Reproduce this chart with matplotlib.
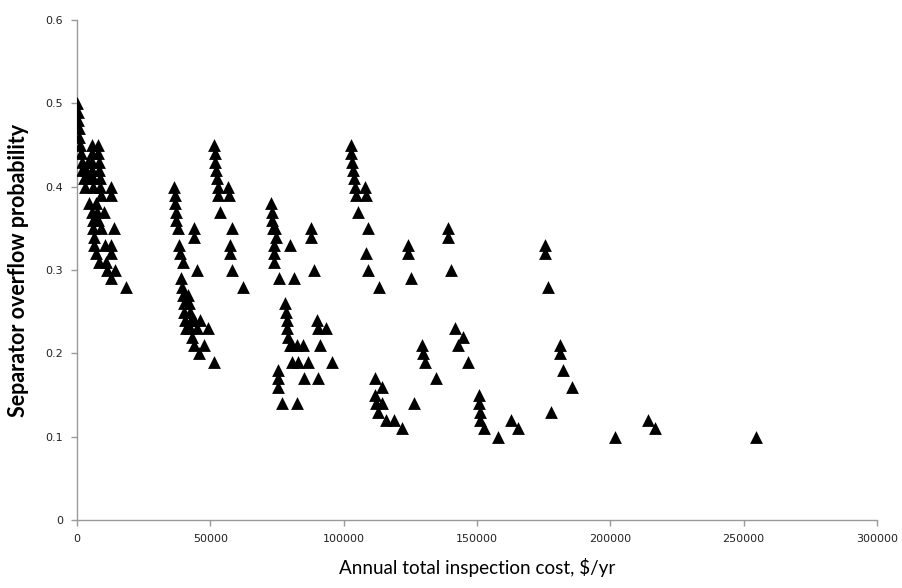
import matplotlib
matplotlib.use('Agg')
import matplotlib.pyplot as plt
import numpy as np

# annual inspection cost ($/yr) and overflow probability for each schedule
cost = [
    0, 300, 500, 700, 900, 1200, 1500, 1800, 2000, 2500, 3000,
    3500, 4000, 4500,
    5500, 5600, 5700, 5800, 6000, 6000,
    7800, 8000, 8200, 8400, 8600, 8800, 9000,
    4500, 5800, 6000, 6000, 6200, 6500, 7000,
    7000, 7500, 8000, 10000, 8400, 9000,
    12600, 12600, 13700, 12600, 12600, 11100, 14300, 12600, 18200, 10500, 11000,
    36400, 36600, 36800, 37000, 37200, 38000, 38300, 38600, 39600,
    43700, 43700, 45000,
    39000, 39300, 39600, 40000, 40300, 40600, 41000, 41500, 42000, 42500, 42800, 43000,
    44000, 46000, 49000, 45000, 42500, 44000, 47500, 45800, 51400,
    51400, 51600, 51800, 52200, 52500, 52900, 53000, 53600,
    56800, 57000, 58300, 57200, 57200, 58300, 62100,
    72900, 73000, 73200, 73400, 74200, 74600, 74000, 74000, 74000, 75900,
    79900, 81400, 87900, 87700, 88900,
    78000, 78300, 78600, 78900, 79300, 79700, 80500, 82500, 84700,
    80500, 82700, 86500, 90000, 90500, 93200, 91000, 85000, 90400, 95800,
    75400, 75400, 75400, 76900, 82500,
    102600, 102800, 103000, 103600, 103800, 104300, 104500, 105400,
    108000, 108200, 109300, 108200, 109300, 113400,
    124100, 124100, 125400,
    139100, 139100, 140400,
    175500, 175600, 176800,
    111900, 111900, 112300, 112800, 114400, 114400, 115700, 118900, 121900, 126400,
    129400, 129600, 130500, 134800, 141900, 144600, 142900, 146800,
    150900, 150900, 151000, 151100, 152600, 157900, 162800, 165400,
    181100, 181300, 182100, 185800, 177900,
    201900, 214300, 216900, 254600,
]
prob = [
    0.50, 0.49, 0.48, 0.47, 0.46, 0.45, 0.44, 0.43, 0.42, 0.41, 0.40,
    0.42, 0.43, 0.41,
    0.45, 0.44, 0.43, 0.42, 0.41, 0.40,
    0.45, 0.44, 0.43, 0.42, 0.41, 0.40, 0.39,
    0.38, 0.37, 0.36, 0.35, 0.34, 0.33, 0.32,
    0.38, 0.37, 0.36, 0.37, 0.31, 0.35,
    0.40, 0.39, 0.35, 0.33, 0.32, 0.30, 0.30, 0.29, 0.28, 0.33, 0.31,
    0.40, 0.39, 0.38, 0.37, 0.36, 0.35, 0.33, 0.32, 0.31,
    0.35, 0.34, 0.30,
    0.29, 0.28, 0.27, 0.26, 0.25, 0.24, 0.23, 0.27, 0.26, 0.25, 0.24, 0.22,
    0.24, 0.24, 0.23, 0.23, 0.23, 0.21, 0.21, 0.20, 0.19,
    0.45, 0.44, 0.43, 0.42, 0.41, 0.40, 0.39, 0.37,
    0.40, 0.39, 0.35, 0.33, 0.32, 0.30, 0.28,
    0.38, 0.37, 0.36, 0.35, 0.35, 0.34, 0.33, 0.32, 0.31, 0.29,
    0.33, 0.29, 0.35, 0.34, 0.30,
    0.26, 0.25, 0.24, 0.23, 0.22, 0.21, 0.21, 0.21, 0.21,
    0.19, 0.19, 0.19, 0.24, 0.23, 0.23, 0.21, 0.17, 0.17, 0.19,
    0.18, 0.17, 0.16, 0.14, 0.14,
    0.45, 0.44, 0.43, 0.42, 0.41, 0.40, 0.39, 0.37,
    0.40, 0.39, 0.35, 0.32, 0.30, 0.28,
    0.33, 0.32, 0.29,
    0.35, 0.34, 0.30,
    0.33, 0.32, 0.28,
    0.17, 0.15, 0.14, 0.13, 0.16, 0.14, 0.12, 0.12, 0.11, 0.14,
    0.21, 0.20, 0.19, 0.17, 0.23, 0.22, 0.21, 0.19,
    0.15, 0.14, 0.13, 0.12, 0.11, 0.10, 0.12, 0.11,
    0.21, 0.20, 0.18, 0.16, 0.13,
    0.10, 0.12, 0.11, 0.10,
]

xticks = [0, 50000, 100000, 150000, 200000, 250000, 300000]
yticks = [0, 0.1, 0.2, 0.3, 0.4, 0.5, 0.6]

fig = plt.figure(figsize=(9.02, 5.88), dpi=100)
ax = fig.add_axes([77/902, 1-520/588, 800/902, 500/588])
ax.scatter(cost, prob, marker='^', s=85, color='black', linewidths=0, zorder=3)

ax.set_xlim(0, 300000)
ax.set_ylim(0, 0.6)
ax.set_xticks(xticks)
ax.set_xticklabels([str(t) for t in xticks])
ax.set_yticks(yticks)
ax.set_yticklabels(['0' if t == 0 else f'{t:.1f}' for t in yticks])

for s in ['top', 'right']:
    ax.spines[s].set_visible(False)
for s in ['left', 'bottom']:
    ax.spines[s].set_color('#999999')
    ax.spines[s].set_linewidth(1.0)
ax.tick_params(direction='out', length=4, color='#999999', width=1.0,
               labelsize=8, labelcolor='#222222', pad=6)
for lab in ax.get_xticklabels() + ax.get_yticklabels():
    lab.set_family(['Liberation Sans Narrow', 'DejaVu Sans'])

ax.set_xlabel('Annual total inspection cost, $/yr', fontsize=13.6,
              family=['Lato', 'DejaVu Sans'])
ax.set_ylabel('Separator overflow probability', fontsize=15.5, fontweight='bold',
              family=['Lato', 'DejaVu Sans'])
ax.xaxis.set_label_coords(0.5, -0.076)
ax.yaxis.set_label_coords(-0.06, 0.5)

fig.savefig('out.png', dpi=100)
